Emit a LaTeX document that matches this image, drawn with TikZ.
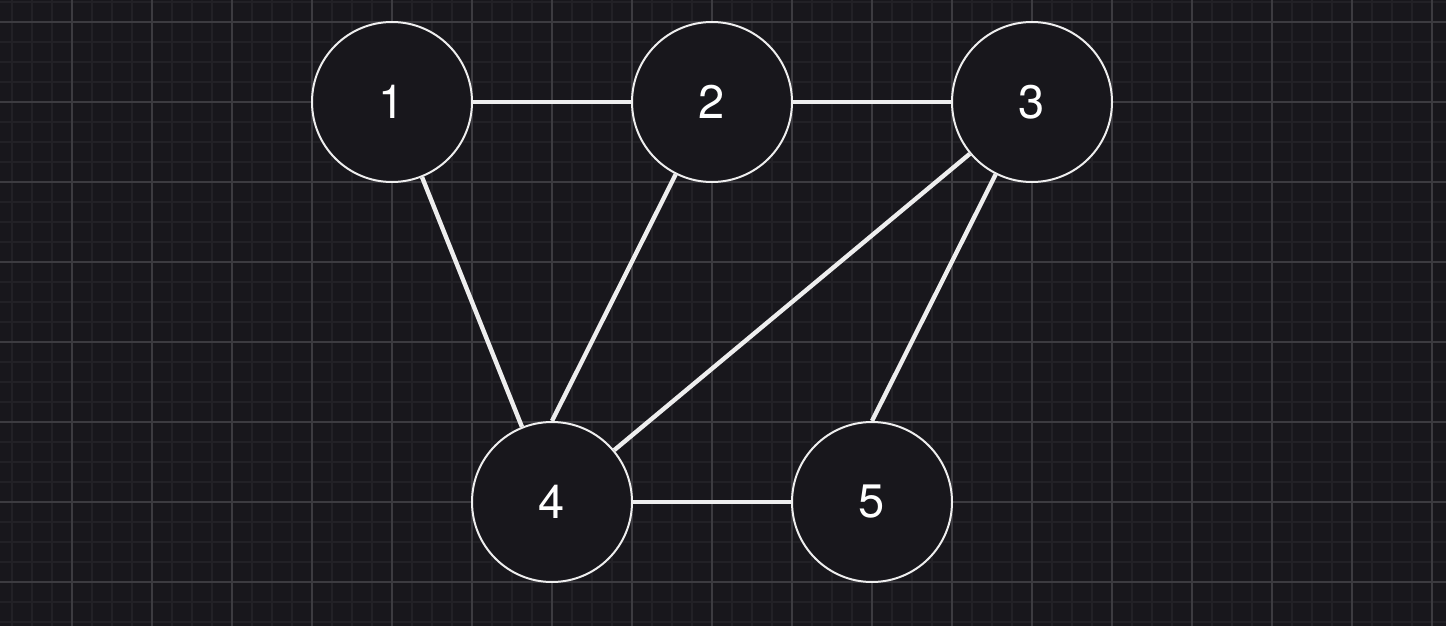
\documentclass[tikz,border=0pt]{standalone}
\usepackage{fontspec}
\setmainfont{TeX Gyre Heros}
\definecolor{bg}{HTML}{18171C}
\definecolor{minorgrid}{HTML}{222126}
\definecolor{majorgrid}{HTML}{3C3B40}
\definecolor{edgecol}{HTML}{EEEEEE}
\begin{document}
\begin{tikzpicture}[x=0.5pt,y=-0.5pt,
  vertex/.style={circle,draw=edgecol,line width=1pt,fill=bg,minimum size=80pt,inner sep=0pt,text=white,font=\fontsize{23.5}{28}\selectfont},
  link/.style={draw=edgecol,line width=2.2pt}]
\fill[bg] (0,0) rectangle (1446,626);
\useasboundingbox (0,0) rectangle (1446,626);
\foreach \x in {12,32,...,1446} \draw[minorgrid,line width=1pt] (\x,0) -- (\x,626);
\foreach \y in {2,22,...,626} \draw[minorgrid,line width=1pt] (0,\y) -- (1446,\y);
\foreach \x in {72,152,...,1446} \draw[majorgrid,line width=0.6pt] (\x,0) -- (\x,626);
\foreach \y in {22,102,...,626} \draw[majorgrid,line width=0.6pt] (0,\y) -- (1446,\y);
\node[vertex] (n1) at (392,102) {1};
\node[vertex] (n2) at (712,102) {2};
\node[vertex] (n3) at (1032,102) {3};
\node[vertex] (n4) at (552,502) {4};
\node[vertex] (n5) at (872,502) {5};
\draw[link] (n1) -- (n2);
\draw[link] (n2) -- (n3);
\draw[link] (n1) -- (n4);
\draw[link] (n2) -- (n4.north);
\draw[link] (n3) -- (n4);
\draw[link] (n3) -- (n5.north);
\draw[link] (n4) -- (n5);
\end{tikzpicture}
\end{document}
